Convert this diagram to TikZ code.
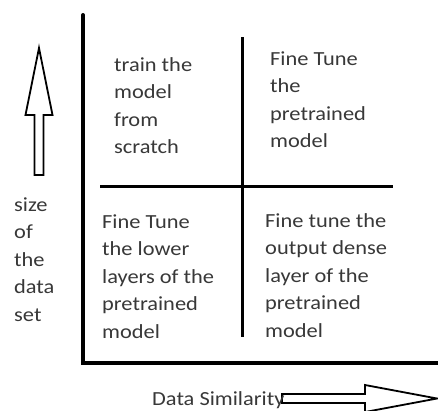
\documentclass[tikz,border=0pt]{standalone}
\usepackage{fontspec}
\setmainfont[FakeStretch=1.12]{Carlito}
\begin{document}
\begin{tikzpicture}[x=1pt,y=-1pt,
  lbl/.style={anchor=base west,inner sep=0pt,align=left,text=black!78,
    font=\fontsize{20}{27.5}\selectfont},
  axisline/.style={line width=4pt,line cap=round,line join=miter,draw=black},
  midline/.style={line width=3pt,draw=black},
  bigarrow/.style={line width=1.8pt,draw=black,fill=white,line join=miter}]
\useasboundingbox (0,0) rectangle (438,410);
\fill[white] (0,0) rectangle (438,410);
% axes
\coordinate (ytop) at (83,15);
\coordinate (origin) at (83,363);
\coordinate (xend) at (440,363);
\draw[axisline] (ytop) -- (origin) -- (xend);
% quadrant lines
\coordinate (vtop) at (242,37);
\coordinate (vbot) at (242,337);
\coordinate (hleft) at (100,186);
\coordinate (hright) at (393,186);
\draw[midline] (vtop) -- (vbot);
\draw[midline] (hleft) -- (hright);
% up arrow
\draw[bigarrow] (39,48) -- (52.5,115) -- (43.5,115) -- (43.5,175) -- (34.5,175)
  -- (34.5,115) -- (25.5,115) -- cycle;
% right arrow
\draw[bigarrow] (437,398.5) -- (365,412) -- (365,403) -- (282,403) -- (282,394)
  -- (365,394) -- (365,385) -- cycle;
% texts (anchored at the baseline of the last line)
\node[lbl] (q1) at (114,153.5) {train the\\model\\from\\scratch};
\node[lbl] (q2) at (270,147.5) {Fine Tune\\the\\pretrained\\model};
\node[lbl] (q3) at (102,338) {Fine Tune\\the lower\\layers of the\\pretrained\\model};
\node[lbl] (q4) at (265,337) {Fine tune the\\output dense\\layer of the\\pretrained\\model};
\node[lbl] (ylab) at (14,321) {size\\of\\the\\data\\set};
\node[lbl] (xlab) at (152,405) {Data Similarity};
\end{tikzpicture}
\end{document}
